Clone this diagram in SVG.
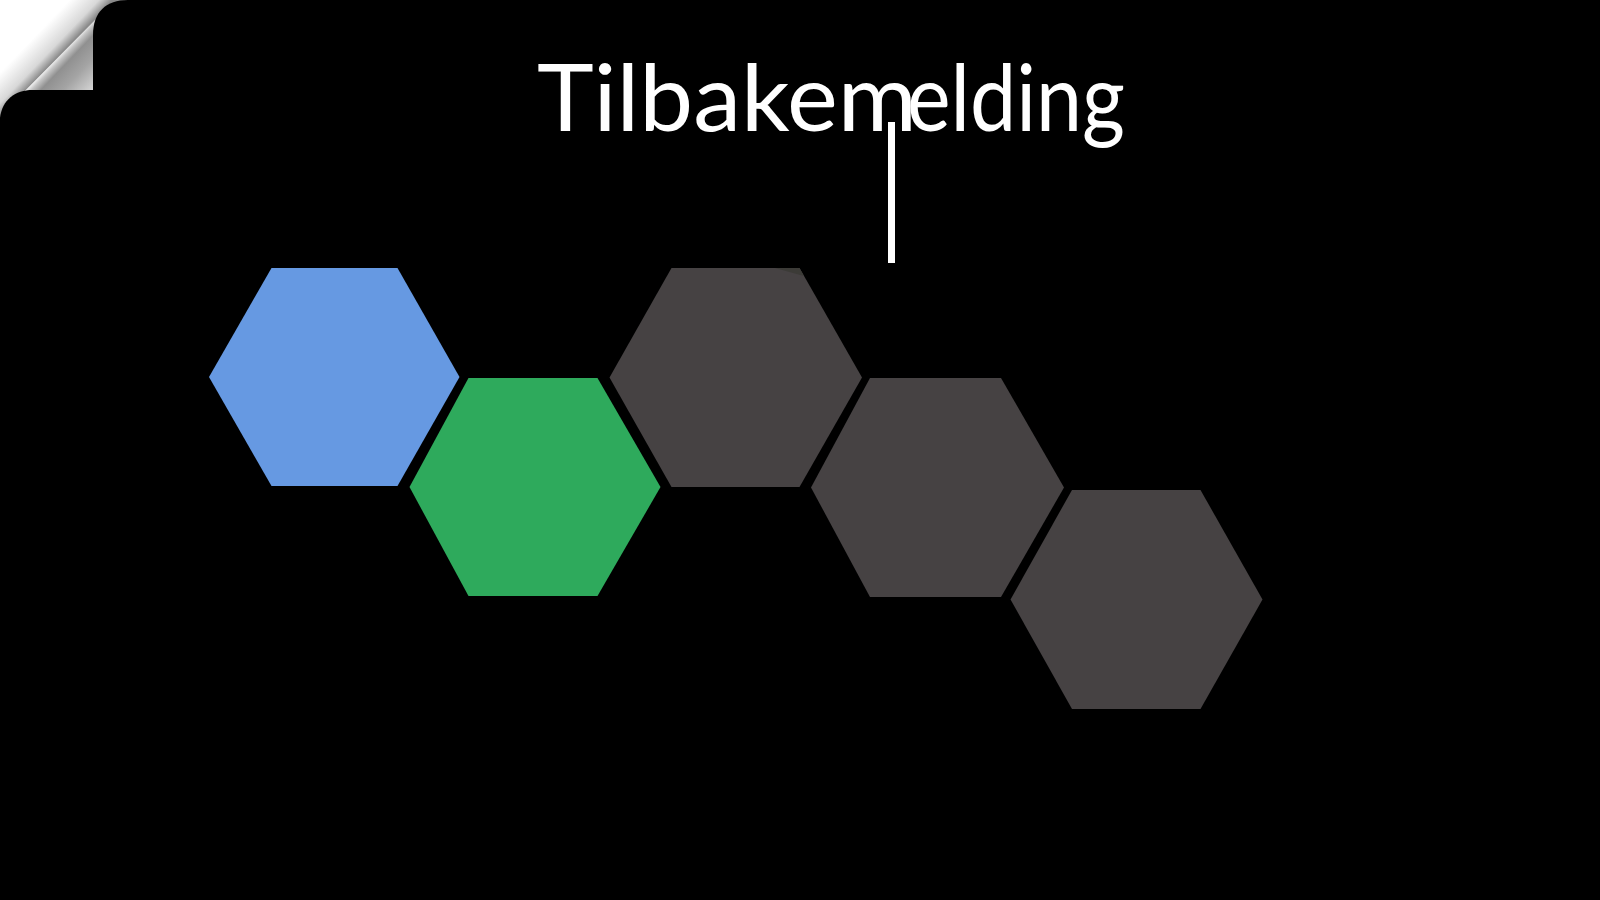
<svg xmlns="http://www.w3.org/2000/svg" width="1600" height="900" viewBox="0 0 1600 900">
  <defs>
    <linearGradient id="back" gradientUnits="userSpaceOnUse" x1="-6.5" y1="7" x2="52" y2="63">
      <stop offset="0" stop-color="#ffffff"/>
      <stop offset="0.62" stop-color="#ffffff"/>
      <stop offset="0.88" stop-color="#d8d8d8"/>
      <stop offset="1" stop-color="#8a8a8a"/>
    </linearGradient>
    <linearGradient id="flap" gradientUnits="userSpaceOnUse" x1="52" y1="63" x2="86.7" y2="96.2">
      <stop offset="0" stop-color="#f2f2f2"/>
      <stop offset="0.08" stop-color="#c4c4c4"/>
      <stop offset="0.22" stop-color="#909090"/>
      <stop offset="0.55" stop-color="#a4a4a4"/>
      <stop offset="1" stop-color="#d4d4d4"/>
    </linearGradient>
    <style>
      .title { font-family: Lato, "Open Sans", "Liberation Sans", sans-serif; font-size: 94px; font-weight: 400; fill: #ffffff; }
      .hex-blue { fill: #6699e2; }
      .hex-green { fill: #2eaa5c; }
      .hex-gray { fill: #464243; }
      .connector { fill: #ffffff; }
    </style>
  </defs>

  <rect x="0" y="0" width="1600" height="900" fill="#000000"/>

  <g id="page-curl">
    <path d="M0,0 L130,0 L93,40 L93,90 L30,90 L0,118 Z" fill="url(#back)"/>
    <path d="M99,16 L93,32 L93,90 L30,90 C18,92 10,100 5,111 Z" fill="url(#flap)"/>
    <path d="M128,0 C106,0 93,12 93,35 L93,91 L1600,91 L1600,0 Z" fill="#000000"/>
    <path d="M0,118 C2,100 15,90 33,90 L1600,90 L1600,900 L0,900 Z" fill="#000000"/>
  </g>

  <g id="title">
    <text class="title" y="131"><tspan x="537" textLength="380" lengthAdjust="spacingAndGlyphs">Tilbakem</tspan><tspan x="907" textLength="218" lengthAdjust="spacingAndGlyphs">elding</tspan></text>
  </g>

  <g id="connectors">
    <rect class="connector" x="888" y="122" width="7" height="141"/>
  </g>

  <g id="hex-blue">
    <polygon class="hex-blue" points="209,377 271.5,268 397.5,268 459.5,377 397.5,486 271.5,486"/>
  </g>
  <g id="hex-green">
    <polygon class="hex-green" points="409.5,487 468.5,378 597.5,378 660.5,487 597.5,596 468.5,596"/>
  </g>
  <g id="hex-gray-1">
    <polygon class="hex-gray" points="609.5,377.5 671.5,268 799.5,268 862,377.5 799.5,487 671.5,487"/>
    <polygon points="775,268 799.5,268 804,276" fill="#3c3b37"/>
  </g>
  <g id="hex-gray-2">
    <polygon class="hex-gray" points="811,487.5 870,378 1001,378 1064,487.5 1001,597 870,597"/>
  </g>
  <g id="hex-gray-3">
    <polygon class="hex-gray" points="1010.5,599.5 1072,490 1200.5,490 1262.5,599.5 1200.5,709 1072,709"/>
  </g>
</svg>
